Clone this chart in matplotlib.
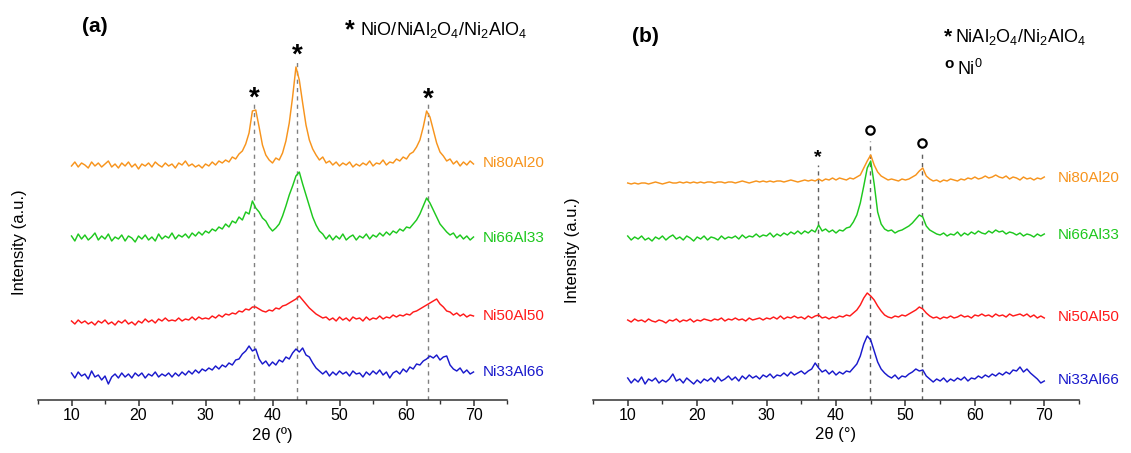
"""XRD patterns of the NiAl samples: (a) calcined, (b) reduced."""

import numpy as np
import matplotlib.pyplot as plt
from matplotlib.ticker import MultipleLocator

plt.rcParams['font.family'] = ['Liberation Sans', 'DejaVu Sans']
plt.rcParams['mathtext.fontset'] = 'custom'
plt.rcParams['mathtext.rm'] = 'Liberation Sans'
plt.rcParams['mathtext.bf'] = 'Liberation Sans:bold'
plt.rcParams['mathtext.it'] = 'Liberation Sans:italic'
plt.rcParams['mathtext.default'] = 'regular'

# 2theta grid, 0.5 deg steps from 10 to 70
two_theta = np.arange(10.0, 70.01, 0.5)

samples = ["Ni80Al20", "Ni66Al33", "Ni50Al50", "Ni33Al66"]
colors = ["#f7941d", "#1ec81e", "#ff1a1a", "#1a1acc"]

# ---- (a) calcined, intensities (a.u.) ----
a_ni80 = [19, 23, 18, 22, 20, 17, 23, 19, 22, 18,
          21, 24, 18, 21, 17, 22, 19, 23, 18, 21,
          16, 21, 19, 22, 18, 23, 20, 18, 22, 19,
          21, 17, 22, 20, 24, 19, 21, 18, 20, 17,
          21, 19, 23, 20, 24, 22, 25, 23, 28, 26,
          31, 34, 41, 52, 74, 75, 58, 40, 30, 25,
          22, 27, 25, 32, 44, 62, 88, 118, 105, 82,
          60, 45, 36, 30, 25, 28, 22, 24, 20, 23,
          19, 22, 20, 23, 18, 21, 19, 22, 20, 24,
          19, 22, 21, 25, 20, 23, 22, 26, 24, 28,
          26, 31, 33, 38, 45, 58, 74, 68, 55, 42,
          33, 29, 24, 26, 21, 24, 19, 23, 20, 24,
          21]
a_ni66 = [22, 17, 24, 19, 23, 18, 21, 25, 18, 22,
          19, 24, 17, 21, 19, 23, 17, 22, 20, 16,
          22, 19, 23, 18, 21, 17, 24, 19, 22, 20,
          25, 19, 23, 21, 24, 20, 25, 22, 26, 23,
          27, 25, 29, 27, 31, 29, 34, 31, 37, 35,
          41, 38, 46, 44, 57, 50, 46, 40, 37, 31,
          27, 30, 34, 42, 52, 63, 72, 82, 86, 74,
          63, 52, 41, 33, 27, 24, 19, 23, 18, 22,
          19, 24, 18, 21, 23, 18, 22, 20, 24, 19,
          23, 21, 25, 22, 26, 23, 27, 25, 29, 27,
          31, 30, 34, 38, 44, 52, 60, 55, 48, 41,
          34, 30, 26, 23, 25, 20, 23, 19, 22, 18,
          21]
a_ni50 = [21, 18, 22, 19, 21, 18, 20, 17, 21, 19,
          22, 18, 20, 17, 21, 19, 22, 18, 20, 17,
          21, 19, 23, 20, 22, 19, 23, 21, 24, 21,
          22, 21, 24, 21, 23, 22, 25, 22, 25, 23,
          24, 23, 26, 24, 27, 25, 28, 27, 29, 28,
          31, 30, 33, 32, 35, 35, 33, 31, 30, 32,
          31, 34, 33, 36, 37, 39, 41, 43, 46, 42,
          38, 34, 31, 28, 26, 24, 25, 22, 24, 21,
          25, 22, 24, 21, 25, 23, 24, 21, 25, 22,
          24, 23, 26, 23, 25, 24, 27, 25, 27, 26,
          28, 27, 30, 31, 33, 35, 37, 39, 41, 43,
          38, 35, 31, 30, 27, 29, 26, 28, 25, 27,
          26]
a_ni33 = [22, 17, 23, 19, 21, 16, 24, 18, 20, 15,
          19, 11, 18, 21, 17, 22, 18, 21, 17, 22,
          19, 22, 17, 21, 19, 23, 18, 21, 19, 22,
          18, 22, 19, 23, 20, 24, 21, 25, 22, 26,
          24, 27, 25, 29, 26, 30, 28, 32, 30, 35,
          36, 41, 44, 49, 44, 46, 36, 31, 34, 29,
          33, 30, 35, 33, 38, 36, 42, 46, 43, 47,
          40, 38, 32, 27, 24, 21, 24, 19, 23, 20,
          24, 21, 23, 19, 24, 21, 22, 18, 23, 20,
          24, 21, 25, 20, 23, 17, 22, 24, 21, 26,
          23, 28, 26, 31, 30, 34, 36, 39, 37, 40,
          35, 38, 39, 30, 26, 24, 27, 22, 25, 21,
          23]

# ---- (b) reduced ----
b_ni80 = [20, 19, 20, 19, 20, 20, 19, 20, 21, 20,
          19, 20, 21, 20, 20, 21, 20, 21, 20, 21,
          20, 21, 20, 21, 21, 20, 21, 21, 20, 21,
          21, 20, 21, 22, 21, 20, 21, 22, 21, 22,
          21, 22, 21, 22, 22, 21, 22, 23, 22, 21,
          22, 23, 22, 23, 22, 24, 22, 24, 23, 25,
          23, 25, 24, 23, 25, 24, 26, 28, 35, 42,
          48, 38, 31, 27, 25, 23, 24, 23, 22, 24,
          23, 24, 26, 28, 32, 35, 27, 24, 22, 23,
          21, 23, 22, 24, 23, 22, 24, 23, 25, 24,
          26, 24, 25, 27, 25, 26, 28, 26, 25, 27,
          24, 26, 25, 23, 26, 24, 25, 23, 25, 24,
          26]
b_ni66 = [22, 18, 21, 19, 22, 18, 20, 17, 21, 19,
          22, 18, 21, 23, 19, 21, 18, 22, 20, 17,
          21, 19, 22, 18, 21, 20, 18, 22, 19, 21,
          20, 22, 19, 23, 20, 22, 21, 24, 21, 23,
          22, 25, 21, 24, 22, 25, 23, 26, 24, 27,
          24, 27, 25, 28, 26, 33, 27, 29, 26, 28,
          25, 28, 27, 30, 31, 36, 43, 55, 72, 90,
          97, 74, 46, 34, 29, 27, 28, 25, 27, 28,
          30, 32, 35, 39, 43, 41, 32, 28, 26, 24,
          23, 25, 22, 24, 23, 26, 22, 25, 23, 26,
          24, 27, 25, 24, 27, 25, 28, 26, 27, 24,
          26, 25, 23, 25, 22, 24, 23, 21, 24, 22,
          24]
b_ni50 = [20, 18, 21, 19, 20, 18, 21, 19, 18, 20,
          19, 17, 20, 19, 21, 18, 20, 19, 21, 18,
          20, 19, 21, 20, 19, 21, 20, 22, 19, 21,
          20, 22, 20, 21, 19, 22, 20, 21, 22, 20,
          22, 21, 23, 21, 24, 21, 23, 22, 24, 22,
          23, 21, 24, 22, 24, 25, 22, 23, 21, 23,
          22, 24, 23, 25, 24, 27, 30, 35, 42, 47,
          44, 40, 34, 29, 25, 23, 22, 24, 23, 25,
          24, 26, 28, 30, 33, 31, 27, 24, 22, 23,
          21, 23, 22, 24, 22, 23, 25, 23, 24, 22,
          25, 24, 26, 24, 25, 23, 26, 24, 25, 23,
          26, 24, 25, 26, 24, 26, 23, 25, 22, 24,
          22]
b_ni33 = [20, 15, 19, 16, 21, 14, 19, 17, 20, 15,
          18, 16, 19, 24, 17, 19, 15, 20, 17, 14,
          18, 15, 19, 17, 20, 16, 21, 17, 19, 22,
          18, 21, 17, 22, 19, 23, 20, 22, 19, 23,
          21, 24, 20, 23, 22, 25, 22, 26, 23, 25,
          27, 24, 27, 29, 35, 30, 26, 28, 24, 27,
          23, 26, 24, 27, 26, 30, 34, 42, 54, 62,
          58, 47, 36, 29, 25, 22, 20, 23, 19, 22,
          21, 24, 26, 29, 27, 28, 22, 19, 16, 19,
          17, 20, 16, 19, 17, 20, 18, 21, 17, 20,
          19, 22, 20, 23, 21, 24, 22, 25, 23, 26,
          24, 28, 27, 31, 26, 29, 25, 22, 19, 15,
          17]

offsets_a = [215, 142, 58, 5]
offsets_b = [197, 142, 60, 2]

peaks_a = [37.3, 43.7, 63.2]        # NiO / spinel
peaks_b_spinel = [37.4]
peaks_b_ni = [44.9, 52.4]           # Ni0


def top_near(x, y, x0, w=0.75):
    sel = np.abs(x - x0) <= w
    return y[sel].max()


def setup_axis(ax, xlabel):
    ax.set_xlim(5, 75)
    ax.set_ylim(0, 400)
    for s in ("left", "right", "top"):
        ax.spines[s].set_visible(False)
    ax.spines["bottom"].set_color("#333333")
    ax.spines["bottom"].set_linewidth(1.1)
    ax.set_yticks([])
    ax.set_xticks(range(10, 71, 10))
    ax.xaxis.set_minor_locator(MultipleLocator(5))
    ax.tick_params(axis="x", which="major", direction="out", length=4,
                   width=1.1, color="#333333", labelsize=11.5, pad=2)
    ax.tick_params(axis="x", which="minor", direction="out", length=3,
                   width=1.0, color="#333333")
    ax.set_xlabel(xlabel, fontsize=12, labelpad=3)


def draw_traces(ax, series, offsets, label_x):
    tops = []
    for name, vals, off, c in zip(samples, series, offsets, colors):
        y = np.asarray(vals, dtype=float) + off
        ax.plot(two_theta, y, color=c, lw=1.05, zorder=2)
        ax.text(label_x, y[-4:].mean(), name, color=c, fontsize=11,
                va="center", ha="left", clip_on=False)
        tops.append(y)
    return tops


fig = plt.figure(figsize=(11.31, 4.53), dpi=100)
W, H = 1131, 453
ax_a = fig.add_axes([38 / W, 53 / H, 469 / W, 400 / H])
ax_b = fig.add_axes([593 / W, 53 / H, 486 / W, 400 / H])

# panel (a)
setup_axis(ax_a, "2θ (º)")
ys = draw_traces(ax_a, [a_ni80, a_ni66, a_ni50, a_ni33], offsets_a, 71.4)
for p in peaks_a:
    top = top_near(two_theta, ys[0], p)
    ax_a.vlines(p, 0, top + 8, colors="#808080", linestyles=(0, (3, 3)),
                lw=1.0, zorder=1)
    ax_a.text(p, top + 4, "*", ha="center", va="baseline", fontsize=20,
              fontweight="bold")

# panel (b)
setup_axis(ax_b, "2θ (°)")
ys = draw_traces(ax_b, [b_ni80, b_ni66, b_ni50, b_ni33], offsets_b, 72.0)
for p in peaks_b_spinel:
    top = top_near(two_theta, ys[0], p)
    ax_b.vlines(p, 0, top + 14, colors="#606060", linestyles=(0, (3, 3)),
                lw=1.0, zorder=1)
    ax_b.text(p, top + 17, "*", ha="center", va="baseline", fontsize=14,
              fontweight="bold")
for p in peaks_b_ni:
    top = top_near(two_theta, ys[0], p)
    ax_b.vlines(p, 0, top + 14, colors="#606060", linestyles=(0, (3, 3)),
                lw=1.0, zorder=1)
    ax_b.plot([p], [top + 25], "o", ms=6, mfc="white", mec="black",
              mew=1.6, clip_on=False, zorder=3)

# panel tags and phase keys
fig.text(95 / W, 1 - 27 / H, "(a)", fontsize=15, fontweight="bold",
         ha="center", va="center")
fig.text(645 / W, 1 - 36 / H, "(b)", fontsize=15, fontweight="bold",
         ha="center", va="center")
fig.text(350 / W, 1 - 30 / H, "*", fontsize=18, fontweight="bold",
         ha="center", va="center")
fig.text(360 / W, 1 - 30 / H, "NiO/NiAl$_2$O$_4$/Ni$_2$AlO$_4$",
         fontsize=13, ha="left", va="center")
fig.text(948 / W, 1 - 37 / H, "*", fontsize=15, fontweight="bold",
         ha="center", va="center")
fig.text(955 / W, 1 - 37 / H, "NiAl$_2$O$_4$/Ni$_2$AlO$_4$",
         fontsize=13, ha="left", va="center")
fig.text(949 / W, 1 - 64 / H, "o", fontsize=11, fontweight="bold",
         ha="center", va="center")
fig.text(957 / W, 1 - 69 / H, "Ni$^0$", fontsize=13,
         ha="left", va="center")

# y labels
fig.text(20 / W, 1 - 242 / H, "Intensity (a.u.)", rotation=90,
         fontsize=12, ha="center", va="center")
fig.text(573 / W, 1 - 250 / H, "Intensity (a.u.)", rotation=90,
         fontsize=12, ha="center", va="center")

fig.savefig("out.png", dpi=100)
